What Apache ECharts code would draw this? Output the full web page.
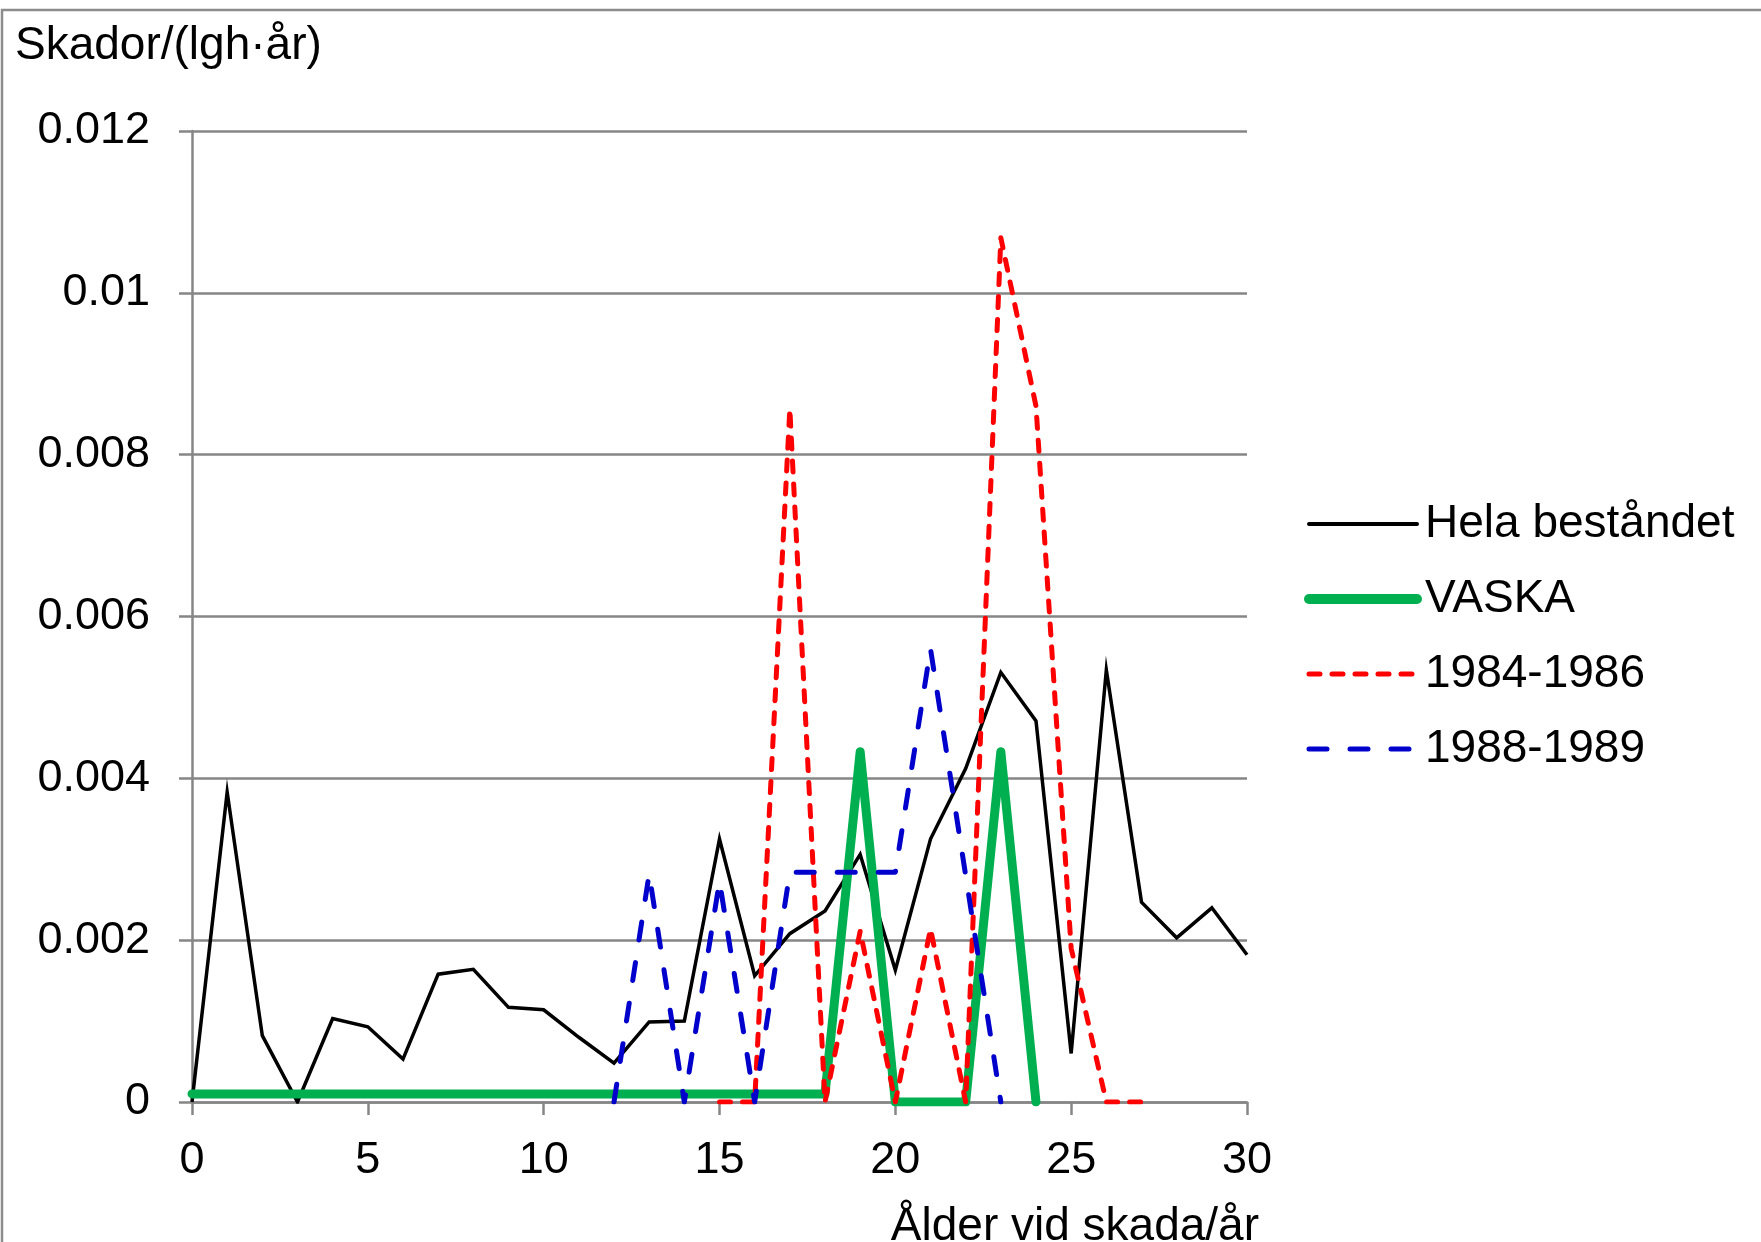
<!DOCTYPE html>
<html>
<head>
<meta charset="utf-8">
<script src="https://cdn.jsdelivr.net/npm/echarts@6/dist/echarts.min.js"></script>
<style>
  html, body { margin: 0; padding: 0; background: #ffffff; }
  #chart { width: 1761px; height: 1242px; }
</style>
</head>
<body>
<div id="chart"></div>
<script>
// Skador per lägenhet och år, efter ålder vid skada (år)
const xTicks = [0, 5, 10, 15, 20, 25, 30];
const yTicks = [0, 0.002, 0.004, 0.006, 0.008, 0.01, 0.012];

// Hela beståndet: ålder 0..30
const helaStart = 0;
const helaValues = [0, 0.00383, 0.00082, 0, 0.00103, 0.00093, 0.00053, 0.00158, 0.00164, 0.00117,
  0.00114, 0.0008, 0.00048, 0.00099, 0.001, 0.00325, 0.00156, 0.00208, 0.00236, 0.00306,
  0.00163, 0.00325, 0.00412, 0.00531, 0.00471, 0.0006, 0.00534, 0.00247, 0.00203, 0.0024, 0.00182];

// VASKA: ålder 0..24
const vaskaStart = 0;
const vaskaValues = [0.0001, 0.0001, 0.0001, 0.0001, 0.0001, 0.0001, 0.0001, 0.0001, 0.0001, 0.0001,
  0.0001, 0.0001, 0.0001, 0.0001, 0.0001, 0.0001, 0.0001, 0.0001, 0.0001,
  0.00433, 0, 0, 0, 0.00433, 0];

// 1984-1986: ålder 15..27
const p8486Start = 15;
const p8486Values = [0, 0, 0.00857, 0, 0.00211, 0, 0.00214, 0, 0.01068, 0.0086, 0.0019, 0, 0];

// 1988-1989: ålder 12..23
const p8889Start = 12;
const p8889Values = [0, 0.00282, 0, 0.00273, 0, 0.00284, 0.00284, 0.00284, 0.00284, 0.0056, 0.0028, 0];

const seriesNames = ['Hela beståndet', 'VASKA', '1984-1986', '1988-1989'];

function pairs(start, values) {
  return values.map((v, i) => [start + i, v]);
}

const FONT = '"Liberation Sans", Arial, sans-serif';
const GRAY = '#868686';

// line styles shared by the plotted series and their legend keys
const styles = [
  { color: '#000000', width: 3.5, join: 'miter', miterLimit: 10 },
  { color: '#00B050', width: 9, join: 'round', cap: 'round' },
  { color: '#FF0000', width: 5, type: [11, 12], cap: 'round', join: 'round' },
  { color: '#0000CC', width: 5, type: [18, 23], cap: 'round', join: 'round' }
];
const legendWidths = [4, 10, 5, 5];

const chart = echarts.init(document.getElementById('chart'), null, { renderer: 'canvas' });

const lineBase = {
  type: 'line',
  symbol: 'none',
  showSymbol: false,
  animation: false,
  silent: true,
  smooth: false
};

const dataSets = [
  pairs(helaStart, helaValues),
  pairs(vaskaStart, vaskaValues),
  pairs(p8486Start, p8486Values),
  pairs(p8889Start, p8889Values)
];

chart.setOption({
  animation: false,
  backgroundColor: '#ffffff',
  grid: { left: 192, top: 131, width: 1055, height: 971, containLabel: false },
  xAxis: {
    type: 'value',
    min: xTicks[0],
    max: xTicks[xTicks.length - 1],
    interval: xTicks[1] - xTicks[0],
    axisLine: { show: true, onZero: false, lineStyle: { color: GRAY, width: 2.5 } },
    axisTick: { show: true, inside: false, length: 13, lineStyle: { color: GRAY, width: 2.5 } },
    axisLabel: { fontSize: 45, color: '#000', fontFamily: FONT, margin: 36 },
    splitLine: { show: false }
  },
  yAxis: {
    type: 'value',
    min: yTicks[0],
    max: yTicks[yTicks.length - 1],
    interval: yTicks[1] - yTicks[0],
    axisLine: { show: true, lineStyle: { color: GRAY, width: 2.5 } },
    axisTick: { show: true, inside: false, length: 13, lineStyle: { color: GRAY, width: 2.5 } },
    axisLabel: {
      fontSize: 45, color: '#000', fontFamily: FONT, margin: 42,
      formatter: v => String(+v.toFixed(3))
    },
    splitLine: { show: true, lineStyle: { color: GRAY, width: 2.5 } }
  },
  legend: {
    orient: 'vertical',
    left: 1299,
    top: 496,
    itemWidth: 108,
    itemHeight: 14,
    itemGap: 29,
    selectedMode: false,
    itemStyle: { opacity: 0 },
    textStyle: { fontSize: 46, color: '#000', fontFamily: FONT, padding: [0, 0, 0, 3] },
    data: seriesNames.map((name, i) => ({
      name: name,
      itemStyle: { opacity: 0 },
      lineStyle: Object.assign({}, styles[i], { width: legendWidths[i], cap: 'round' })
    }))
  },
  graphic: [
    {
      type: 'rect',
      silent: true,
      shape: { x: 2, y: 10, width: 1900, height: 1400 },
      style: { fill: 'none', stroke: '#8c8c8c', lineWidth: 2.5 }
    },
    {
      type: 'text',
      silent: true,
      left: 15,
      top: 23,
      style: { text: 'Skador/(lgh·år)', fontSize: 46, fill: '#000', fontFamily: FONT }
    },
    {
      type: 'text',
      silent: true,
      x: 1259,
      y: 1227,
      style: {
        text: 'Ålder vid skada/år', fontSize: 46, fill: '#000', fontFamily: FONT,
        align: 'right', verticalAlign: 'middle'
      }
    }
  ],
  series: seriesNames.map((name, i) => Object.assign({}, lineBase, {
    name: name,
    data: dataSets[i],
    color: styles[i].color,
    lineStyle: styles[i]
  }))
});
</script>
</body>
</html>
